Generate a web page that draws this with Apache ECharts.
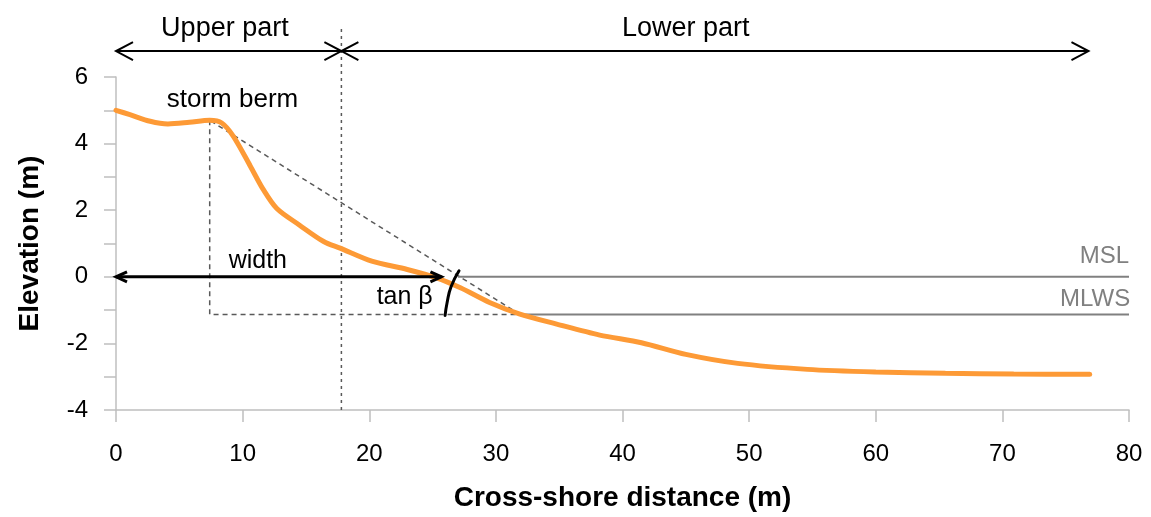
<!DOCTYPE html>
<html>
<head>
<meta charset="utf-8">
<script src="https://cdn.jsdelivr.net/npm/echarts@6/dist/echarts.min.js"></script>
<style>
html,body{margin:0;padding:0;background:#fff;}
#chart{width:1151px;height:517px;}
</style>
</head>
<body>
<div id="chart"></div>
<script>
// ---- data (in chart units: metres) ----
const xTickValues = [0, 10, 20, 30, 40, 50, 60, 70, 80];
const yTickValues = [-4, -2, 0, 2, 4, 6];

const profileX = [0, 1.1, 2.7, 4.1, 5.8, 7.4, 8.35, 9.27, 10.6, 11.6, 12.7, 14.5, 16.4, 17.7, 20.2, 23.0, 25.3, 27.2, 29.5, 31.9, 34.8, 38.2, 41.5, 45.0, 49.1, 54.6, 60.0, 65.5, 70.9, 76.9];
const profileY = [5.0, 4.87, 4.67, 4.59, 4.64, 4.70, 4.62, 4.22, 3.33, 2.64, 2.05, 1.55, 1.06, 0.86, 0.47, 0.22, -0.03, -0.33, -0.77, -1.12, -1.42, -1.75, -1.98, -2.33, -2.60, -2.78, -2.86, -2.90, -2.92, -2.93];

const mslLevel = 0;
const mlwsLevel = -1.13;
const mslLine = [[27.0, mslLevel], [80, mslLevel]];
const mlwsLine = [[31.9, mlwsLevel], [80, mlwsLevel]];

const slopeTriangle = [[7.4, 4.70], [7.4, mlwsLevel], [31.9, mlwsLevel], [7.4, 4.70]];
const partDivider = [[17.8, -4], [17.8, 7.45]];
const tanArc = [[25.99, -1.16], [26.15, -0.77], [26.46, -0.30], [27.09, 0.18]];

// double-headed arrows: [x1, y1, x2, y2]
const partArrows = [[0, 6.78, 17.8, 6.78], [17.8, 6.78, 76.8, 6.78]];
const widthArrow = [[0, 0, 25.7, 0]];

const labelText = ['Upper part', 'Lower part', 'storm berm', 'width', 'tan β', 'MSL', 'MLWS'];
const labelX = [8.6, 45.0, 9.2, 11.2, 22.8, 80.0, 80.1];
const labelY = [7.45, 7.45, 5.31, 0.47, -0.62, 0.62, -0.68];

// ---- styling ----
const FONT = '"Liberation Sans", Arial, Helvetica, sans-serif';
const labelStyle = [
  {size: 27, color: '#000', align: 'center'},
  {size: 27, color: '#000', align: 'center'},
  {size: 26, color: '#000', align: 'center'},
  {size: 25, color: '#000', align: 'center'},
  {size: 25, color: '#000', align: 'center'},
  {size: 24, color: '#808080', align: 'right'},
  {size: 24, color: '#808080', align: 'right'}
];

function arrowRenderer(headLen, headHalf, lw) {
  return function (params, api) {
    const p1 = api.coord([api.value(0), api.value(1)]);
    const p2 = api.coord([api.value(2), api.value(3)]);
    const dx = p2[0] - p1[0], dy = p2[1] - p1[1];
    const len = Math.sqrt(dx * dx + dy * dy) || 1;
    const ux = dx / len, uy = dy / len;
    const nx = -uy, ny = ux;
    function head(tip, dirx, diry) {
      return [
        [tip[0] - dirx * headLen + nx * headHalf, tip[1] - diry * headLen + ny * headHalf],
        [tip[0], tip[1]],
        [tip[0] - dirx * headLen - nx * headHalf, tip[1] - diry * headLen - ny * headHalf]
      ];
    }
    const st = {stroke: '#000', lineWidth: lw, fill: null, lineJoin: 'miter'};
    return {
      type: 'group',
      children: [
        {type: 'line', shape: {x1: p1[0], y1: p1[1], x2: p2[0], y2: p2[1]}, style: st},
        {type: 'polyline', shape: {points: head(p2, ux, uy)}, style: st},
        {type: 'polyline', shape: {points: head(p1, -ux, -uy)}, style: st}
      ]
    };
  };
}

const chart = echarts.init(document.getElementById('chart'), null, {renderer: 'canvas'});

const axisGray = '#bfbfbf';

const option = {
  animation: false,
  backgroundColor: '#fff',
  grid: {left: 116, right: 22, top: 77, bottom: 103, containLabel: false},
  xAxis: {
    type: 'value',
    min: xTickValues[0],
    max: xTickValues[xTickValues.length - 1],
    interval: 10,
    axisLine: {show: true, onZero: false, lineStyle: {color: axisGray, width: 1.5}},
    axisTick: {show: true, length: 12, lineStyle: {color: axisGray, width: 1.5}},
    axisLabel: {fontSize: 24, color: '#000', fontFamily: FONT, margin: 32},
    splitLine: {show: false},
    name: 'Cross-shore distance (m)',
    nameLocation: 'middle',
    nameGap: 74,
    nameTextStyle: {fontSize: 28, fontWeight: 'bold', color: '#000', fontFamily: FONT}
  },
  yAxis: {
    type: 'value',
    min: yTickValues[0],
    max: yTickValues[yTickValues.length - 1],
    interval: 1,
    axisLine: {show: true, onZero: false, lineStyle: {color: axisGray, width: 1.5}},
    axisTick: {show: true, length: 12, lineStyle: {color: axisGray, width: 1.5}},
    axisLabel: {
      fontSize: 24, color: '#000', fontFamily: FONT, margin: 28,
      formatter: function (v) { return yTickValues.indexOf(v) >= 0 ? String(v) : ''; }
    },
    splitLine: {show: false},
    name: 'Elevation (m)',
    nameLocation: 'middle',
    nameGap: 72,
    nameTextStyle: {fontSize: 28, fontWeight: 'bold', color: '#000', fontFamily: FONT}
  },
  series: [
    {
      name: 'divider', type: 'line', data: partDivider, clip: false, symbol: 'none', z: 2,
      lineStyle: {color: '#595959', width: 1.5, type: [3, 4]}
    },
    {
      name: 'slope', type: 'line', data: slopeTriangle, clip: false, symbol: 'none', z: 2,
      lineStyle: {color: '#595959', width: 1.5, type: [5, 4]}
    },
    {
      name: 'MSL', type: 'line', data: mslLine, symbol: 'none', z: 2,
      lineStyle: {color: '#808080', width: 2}
    },
    {
      name: 'MLWS', type: 'line', data: mlwsLine, symbol: 'none', z: 2,
      lineStyle: {color: '#808080', width: 2}
    },
    {
      name: 'profile', type: 'line',
      data: profileX.map(function (x, i) { return [x, profileY[i]]; }),
      symbol: 'none', smooth: 0.3, z: 3,
      lineStyle: {color: '#fd9a36', width: 5, cap: 'round'}
    },
    {
      name: 'tanArc', type: 'line', data: tanArc, symbol: 'none', smooth: 0.5, z: 4,
      lineStyle: {color: '#000', width: 3, cap: 'round'}
    },
    {
      name: 'partArrows', type: 'custom', data: partArrows, clip: false, z: 4,
      encode: {x: [0, 2], y: [1, 3]},
      renderItem: arrowRenderer(17, 9, 2)
    },
    {
      name: 'widthArrow', type: 'custom', data: widthArrow, clip: false, z: 4,
      encode: {x: [0, 2], y: [1, 3]},
      renderItem: arrowRenderer(11, 5, 3)
    },
    {
      name: 'labels', type: 'custom', clip: false, z: 5,
      data: labelX.map(function (x, i) { return [x, labelY[i]]; }),
      renderItem: function (params, api) {
        const i = params.dataIndex;
        const p = api.coord([api.value(0), api.value(1)]);
        const s = labelStyle[i];
        return {
          type: 'text', x: p[0], y: p[1],
          style: {
            text: labelText[i], fill: s.color, align: s.align, verticalAlign: 'middle',
            font: s.size + 'px ' + FONT
          }
        };
      }
    }
  ]
};

chart.setOption(option);
</script>
</body>
</html>
